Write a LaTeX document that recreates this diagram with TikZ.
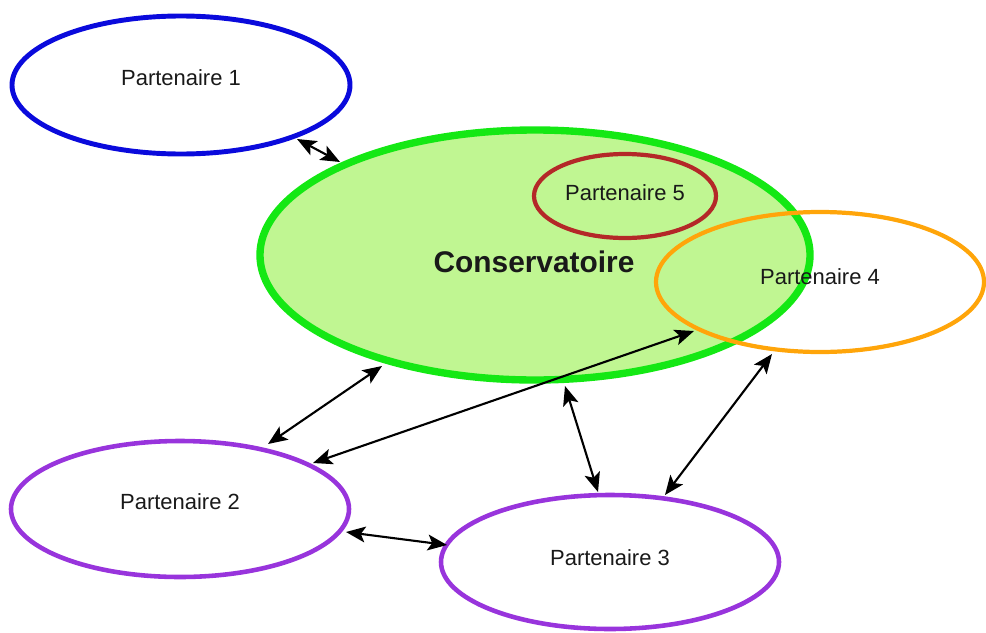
\documentclass[tikz,border=0pt]{standalone}
\usepackage{fontspec}
\setmainfont{Liberation Sans}
\usetikzlibrary{arrows.meta}
\definecolor{cfill}{RGB}{192,246,146}
\definecolor{cgreen}{RGB}{20,232,20}
\definecolor{cblue}{RGB}{10,10,220}
\definecolor{cred}{RGB}{180,40,40}
\definecolor{corange}{RGB}{255,165,10}
\definecolor{cpurple}{RGB}{152,52,220}
\tikzset{
  lbl/.style={font=\fontsize{12.5}{14}\selectfont, text=black!90},
  link/.style={{Stealth[length=11pt,width=9pt,inset=2.5pt]}-{Stealth[length=11pt,width=9pt,inset=2.5pt]}, line width=1.2pt, black}
}
\begin{document}
\begin{tikzpicture}[x=0.02cm,y=-0.02cm]
\useasboundingbox (0,0) rectangle (986,632);
% Conservatoire
\draw[cgreen, fill=cfill, line width=4.2pt] (535,255) ellipse [x radius=275, y radius=125];
% Partenaire 5
\draw[cred, line width=2.4pt] (625,196) ellipse [x radius=91, y radius=42];
% Partenaire 4
\draw[corange, line width=2.4pt] (820,282) ellipse [x radius=164, y radius=70];
% Partenaire 1
\draw[cblue, line width=2.8pt] (181,85) ellipse [x radius=169, y radius=69];
% Partenaire 2
\draw[cpurple, line width=2.6pt] (180,509) ellipse [x radius=169, y radius=68];
% Partenaire 3
\draw[cpurple, line width=2.6pt] (610,562) ellipse [x radius=169, y radius=67];
% labels
\node[lbl] (p1) at (181,78) {Partenaire 1};
\node[lbl] (p5) at (625,193) {Partenaire 5};
\node[font=\bfseries\fontsize{17}{20}\selectfont, text=black!90] (cons) at (534,262) {Conservatoire};
\node[lbl] (p4) at (820,277) {Partenaire 4};
\node[lbl] (p2) at (180,502) {Partenaire 2};
\node[lbl] (p3) at (610,558) {Partenaire 3};
% connector end points
\coordinate (a1) at (297,139);
\coordinate (a2) at (340,162);
\coordinate (b1) at (382,366);
\coordinate (b2) at (268,444);
\coordinate (c1) at (694,331);
\coordinate (c2) at (313,463);
\coordinate (d1) at (565,386);
\coordinate (d2) at (598,492);
\coordinate (e1) at (772,354);
\coordinate (e2) at (665,495);
\coordinate (f1) at (346,532);
\coordinate (f2) at (447,545);
\draw[link] (a1) -- (a2);
\draw[link] (b1) -- (b2);
\draw[link] (c1) -- (c2);
\draw[link] (d1) -- (d2);
\draw[link] (e1) -- (e2);
\draw[link] (f1) -- (f2);
\end{tikzpicture}
\end{document}
